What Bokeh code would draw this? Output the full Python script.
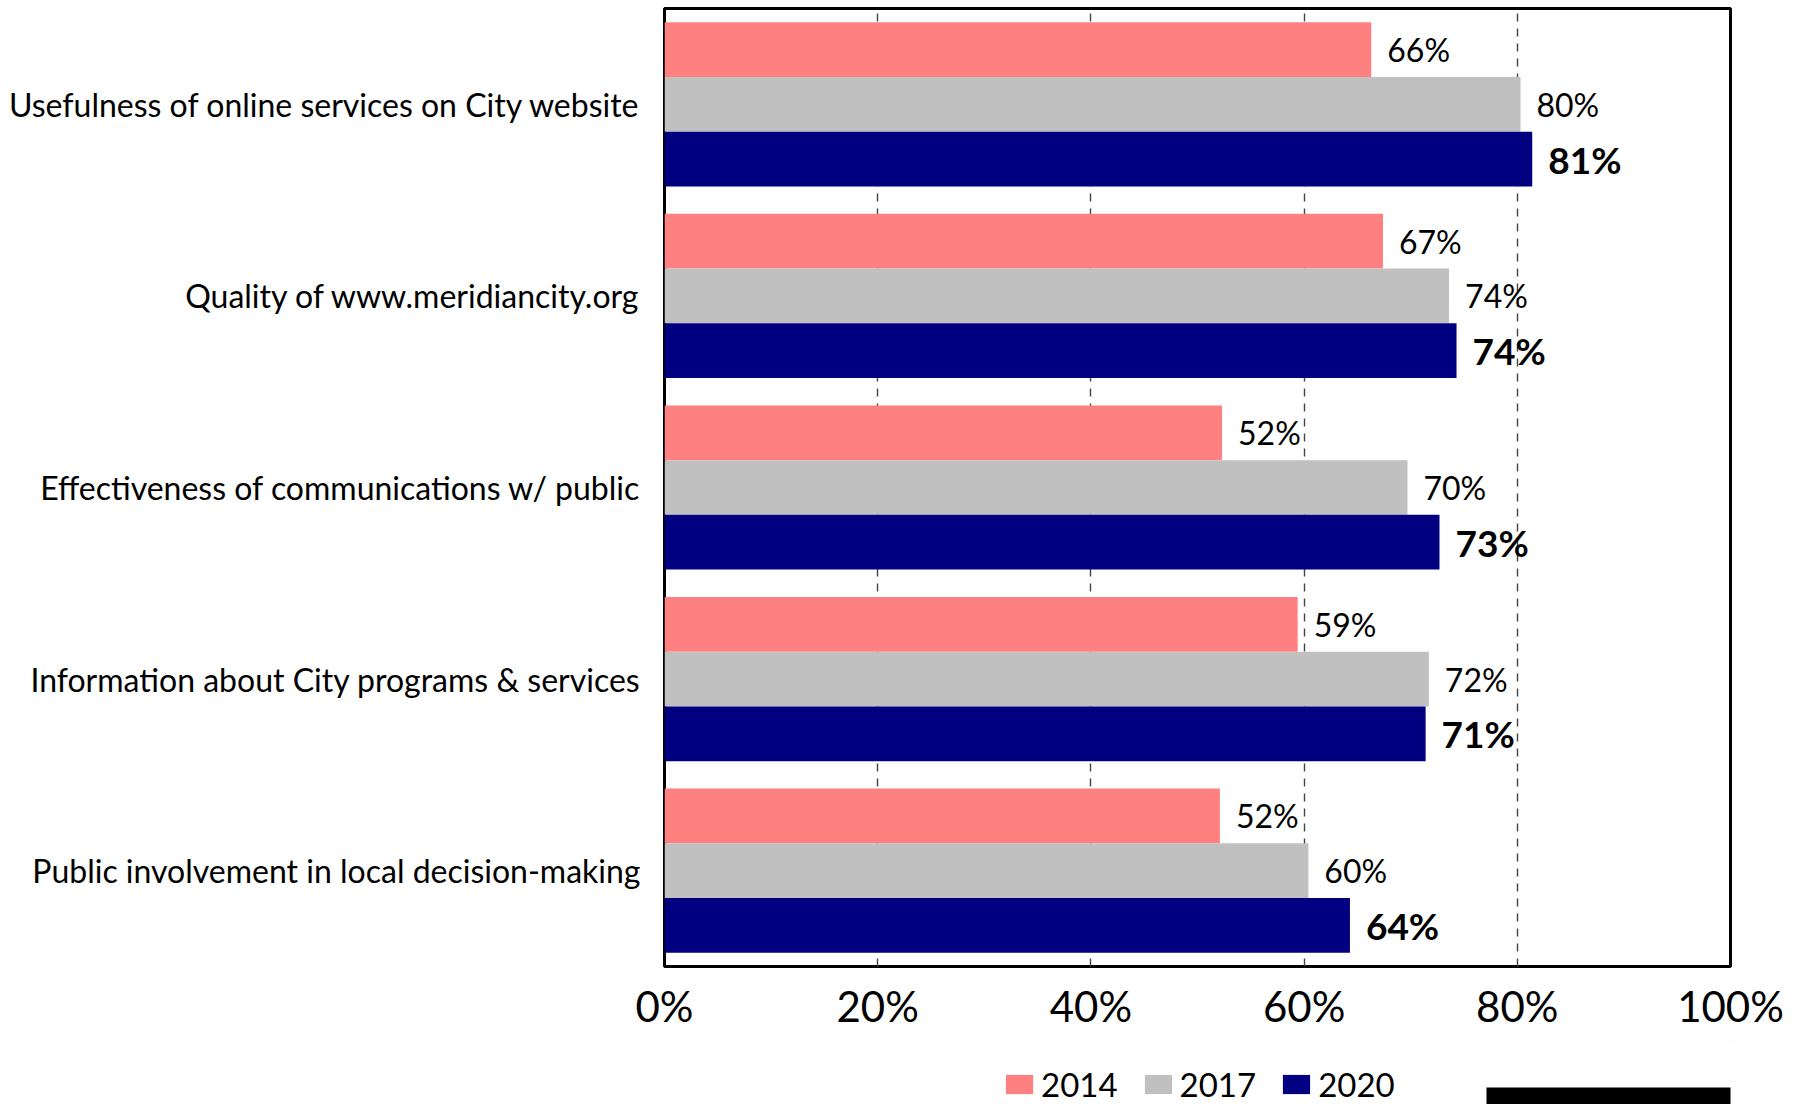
from bokeh.plotting import figure
from bokeh.layouts import column
from bokeh.models import (FactorRange, FixedTicker, Legend, LegendItem, BoxAnnotation,
                          ColumnDataSource, PrintfTickFormatter)
from bokeh.transform import dodge
from bokeh.core.properties import value
from bokeh.embed import file_html
from bokeh.resources import INLINE

categories = [
    "Usefulness of online services on City website",
    "Quality of www.meridiancity.org",
    "Effectiveness of communications w/ public",
    "Information about City programs & services",
    "Public involvement in local decision-making",
]
years = ["2014", "2017", "2020"]
v2014 = [66.3, 67.4, 52.3, 59.4, 52.1]
v2017 = [80.3, 73.6, 69.7, 71.7, 60.4]
v2020 = [81.4, 74.3, 72.7, 71.4, 64.3]
colors = ["#FF8080", "#C0C0C0", "#000080"]
x_ticks = [0, 20, 40, 60, 80, 100]
grid_ticks = [20, 40, 60, 80]

FONT = "Lato"
W = 1800
H_MAIN = 1040
H_LEG = 64
FRAME_LEFT = 664

p = figure(width=W, height=H_MAIN,
           y_range=FactorRange(factors=list(reversed(categories)), range_padding=0),
           x_range=(0, 100),
           output_backend="svg", toolbar_location=None,
           min_border_left=FRAME_LEFT, min_border_right=70, min_border_top=8, min_border_bottom=74)
p.background_fill_color = "white"
p.border_fill_color = "white"
p.outline_line_color = "black"
p.outline_line_width = 3

offsets = [0.2857, 0.0, -0.2857]
for yr, vals, col, off in zip(years, [v2014, v2017, v2020], colors, offsets):
    src = ColumnDataSource(dict(cat=categories, val=vals,
                                lbl=[f"{round(v)}%" for v in vals]))
    p.hbar(y=dodge("cat", off, range=p.y_range), left=0, right="val",
           height=0.2857, fill_color=col, line_color=None, source=src)
    bold = yr == "2020"
    p.text(x="val", y=dodge("cat", off, range=p.y_range), text="lbl", source=src,
           x_offset=16, text_baseline="middle", text_align="left",
           text_font=value(FONT), text_font_size="37px" if bold else "32px",
           text_font_style="bold" if bold else "normal", text_color="black")

# axes
p.xaxis.ticker = FixedTicker(ticks=x_ticks)
p.xaxis.formatter = PrintfTickFormatter(format="%d%%")
p.xaxis.axis_line_color = None
p.xaxis.major_tick_line_color = None
p.xaxis.minor_tick_line_color = None
p.xaxis.major_tick_out = 0
p.xaxis.major_tick_in = 0
p.xaxis.major_label_text_font = FONT
p.xaxis.major_label_text_font_size = "42px"
p.xaxis.major_label_text_color = "black"
p.xaxis.major_label_standoff = 14

p.yaxis.axis_line_color = None
p.yaxis.major_tick_line_color = None
p.yaxis.minor_tick_line_color = None
p.yaxis.major_tick_out = 0
p.yaxis.major_tick_in = 0
p.yaxis.major_label_text_font = FONT
p.yaxis.major_label_text_font_size = "32px"
p.yaxis.major_label_text_color = "black"
p.yaxis.major_label_standoff = 24

p.xgrid.ticker = FixedTicker(ticks=grid_ticks)
p.xgrid.grid_line_color = "#444444"
p.xgrid.grid_line_dash = "8 7"
p.xgrid.grid_line_width = 1.4
p.ygrid.grid_line_color = None

# strip below the chart: legend and the black bar at the lower right edge
q = figure(width=W, height=H_LEG, x_range=(0, 1), y_range=(0, 1),
           output_backend="svg", toolbar_location=None,
           min_border_left=FRAME_LEFT, min_border_right=70, min_border_top=0, min_border_bottom=0)
q.axis.visible = False
q.grid.visible = False
q.outline_line_color = None
q.background_fill_color = "white"
q.border_fill_color = "white"

# legend swatches: one bar per year placed far outside this strip's visible ranges
leg_renderers = [q.hbar(y=[50], left=[20], right=[21], height=0.5, fill_color=col, line_color=None)
                 for col in colors]
legend = Legend(items=[LegendItem(label=yr, renderers=[r]) for yr, r in zip(years, leg_renderers)],
                orientation="horizontal", location=(1002 - FRAME_LEFT, 0),
                glyph_width=34, glyph_height=24, label_standoff=5, spacing=23,
                padding=0, margin=0, border_line_color=None, background_fill_alpha=0,
                label_text_font=FONT, label_text_font_size="33px", label_text_color="black")
q.add_layout(legend, "center")

q.add_layout(BoxAnnotation(left=1486, right=W, top=47, bottom=H_LEG,
                           left_units="canvas", right_units="canvas",
                           top_units="canvas", bottom_units="canvas",
                           fill_color="black", fill_alpha=1, line_color=None))

layout = column(p, q, spacing=0)
open("out.html", "w").write(file_html(layout, INLINE))
